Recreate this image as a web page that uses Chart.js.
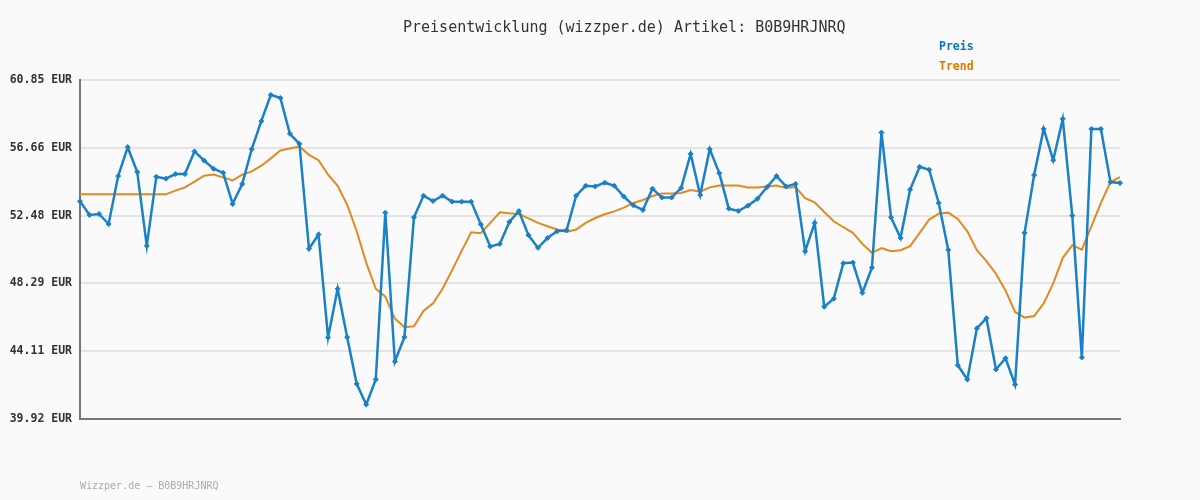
<!DOCTYPE html>
<html>
<head>
<meta charset="utf-8">
<script src="https://cdn.jsdelivr.net/npm/chart.js@4/dist/chart.umd.min.js"></script>
<style>
  html, body { margin: 0; padding: 0; background: #fafafa; }
  #wrap { position: relative; width: 1200px; height: 500px; }
  canvas { position: absolute; left: 0; top: 0; }
  .txt { position: absolute; font-family: "DejaVu Sans Mono", monospace; white-space: nowrap; line-height: 1; }
  #title { left: 403px; top: 20px; font-size: 15px; color: #333; }
  .leg { left: 939px; font-size: 11.5px; font-weight: bold; }
  #legPreis { top: 41px; color: #0b74c0; }
  #legTrend { top: 61px; color: #dd7700; }
  #footer { left: 80px; top: 481px; font-size: 10px; color: #aaa; }
</style>
</head>
<body>
<div id="wrap">
  <canvas id="chart" width="1200" height="500"></canvas>
  <div class="txt" id="title">Preisentwicklung (wizzper.de) Artikel: B0B9HRJNRQ</div>
  <div class="txt leg" id="legPreis">Preis</div>
  <div class="txt leg" id="legTrend">Trend</div>
  <div class="txt" id="footer">Wizzper.de – B0B9HRJNRQ</div>
</div>
<script>
// price per sample
const preis = [
  53.36, 52.52, 52.58, 51.96, 54.92, 56.70, 55.17, 50.61, 54.88, 54.76,
  55.04, 55.04, 56.44, 55.88, 55.37, 55.12, 53.20, 54.43, 56.58, 58.31,
  59.93, 59.74, 57.53, 56.91, 50.43, 51.31, 44.95, 47.96, 44.97, 42.09,
  40.82, 42.36, 52.66, 43.47, 44.97, 52.37, 53.71, 53.38, 53.71, 53.34,
  53.34, 53.34, 51.94, 50.57, 50.73, 52.09, 52.76, 51.27, 50.49, 51.10,
  51.51, 51.57, 53.71, 54.32, 54.28, 54.51, 54.32, 53.65, 53.11, 52.83,
  54.14, 53.59, 53.59, 54.18, 56.29, 53.75, 56.58, 55.10, 52.91, 52.76,
  53.09, 53.52, 54.24, 54.92, 54.28, 54.43, 50.28, 52.03, 46.85, 47.35,
  49.54, 49.58, 47.72, 49.26, 57.61, 52.37, 51.10, 54.08, 55.49, 55.31,
  53.26, 50.36, 43.24, 42.36, 45.52, 46.14, 42.98, 43.67, 42.05, 51.41,
  54.98, 57.83, 55.90, 58.45, 52.48, 43.72, 57.83, 57.83, 54.55, 54.49
];

// trend line
const trend = [
  53.79, 53.79, 53.79, 53.79, 53.79, 53.79, 53.79, 53.79, 53.79, 53.79,
  54.02, 54.22, 54.57, 54.94, 55.02, 54.84, 54.65, 55.00, 55.21, 55.56,
  56.01, 56.50, 56.62, 56.75, 56.23, 55.90, 55.00, 54.32, 53.15, 51.51,
  49.56, 47.96, 47.47, 46.12, 45.58, 45.64, 46.59, 47.06, 47.96, 49.11,
  50.30, 51.45, 51.39, 52.03, 52.68, 52.62, 52.58, 52.31, 52.03, 51.82,
  51.62, 51.47, 51.62, 52.03, 52.33, 52.56, 52.74, 52.97, 53.26, 53.44,
  53.69, 53.85, 53.85, 53.87, 54.06, 53.96, 54.22, 54.34, 54.34, 54.34,
  54.22, 54.22, 54.28, 54.34, 54.18, 54.24, 53.56, 53.30, 52.70, 52.13,
  51.76, 51.41, 50.73, 50.18, 50.47, 50.28, 50.34, 50.59, 51.41, 52.23,
  52.60, 52.66, 52.27, 51.51, 50.34, 49.67, 48.89, 47.86, 46.53, 46.18,
  46.28, 47.06, 48.29, 49.87, 50.65, 50.38, 51.82, 53.26, 54.55, 54.86
];

const yTicks = [39.92, 44.11, 48.29, 52.48, 56.66, 60.85];
const labels = preis.map((_, i) => i + 1);

new Chart(document.getElementById('chart').getContext('2d'), {
  type: 'line',
  data: {
    labels: labels,
    datasets: [
      {
        label: 'Trend',
        data: trend,
        borderColor: '#e08a20',
        borderWidth: 2,
        pointRadius: 0,
        tension: 0,
        order: 2
      },
      {
        label: 'Preis',
        data: preis,
        borderColor: '#1a80c8',
        backgroundColor: '#1a80c8',
        borderWidth: 2.5,
        pointStyle: 'rectRot',
        pointRadius: 2.5,
        pointBorderWidth: 1,
        tension: 0,
        order: 1
      }
    ]
  },
  options: {
    responsive: false,
    animation: false,
    layout: { padding: { top: 80, right: 80, bottom: 81, left: 0 } },
    plugins: {
      legend: { display: false },
      title: { display: false },
      tooltip: { enabled: false }
    },
    scales: {
      x: {
        ticks: { display: false },
        grid: { display: false, drawTicks: false },
        border: { display: true, color: '#777', width: 2 },
        afterFit: s => { s.height = 0; }
      },
      y: {
        min: 39.92,
        max: 60.85,
        afterBuildTicks: s => { s.ticks = yTicks.map(v => ({ value: v })); },
        ticks: {
          padding: 8,
          color: '#333',
          font: { family: 'DejaVu Sans Mono', size: 11.5, weight: 'bold' },
          callback: v => v.toFixed(2) + ' EUR'
        },
        grid: { color: '#e4e4e4', lineWidth: 2, drawTicks: false },
        border: { display: true, color: '#777', width: 2 },
        afterFit: s => { s.width = 80; }
      }
    }
  }
});
</script>
</body>
</html>
